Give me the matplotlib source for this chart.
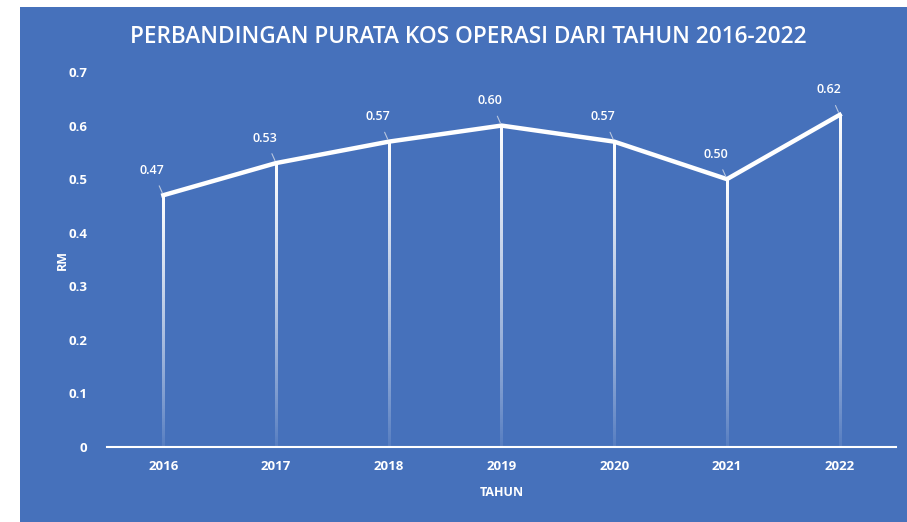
import numpy as np
import matplotlib
matplotlib.use('Agg')
import matplotlib.pyplot as plt
from matplotlib.patches import Rectangle

# Data
years = ['2016', '2017', '2018', '2019', '2020', '2021', '2022']
kos = [0.47, 0.53, 0.57, 0.60, 0.57, 0.50, 0.62]
labels = ['0.47', '0.53', '0.57', '0.60', '0.57', '0.50', '0.62']

blue = '#4671BB'
plt.rcParams['font.family'] = ['Open Sans', 'DejaVu Sans']

fig = plt.figure(figsize=(9.07, 5.22), dpi=100, facecolor='white')
# blue chart area (white margin on the left and top)
fig.patches.append(Rectangle((20 / 907, 0), 1, 1 - 7 / 522, transform=fig.transFigure,
                             facecolor=blue, edgecolor='none', zorder=-10))

ax = fig.add_axes([107 / 907, 75 / 522, 789 / 907, 375 / 522])
ax.set_facecolor('none')
ax.set_zorder(5)

x = np.arange(len(years))

# drop lines fading out toward the axis (vertical gradient images)
grad = np.ones((100, 1, 4))
grad[:, 0, 3] = np.linspace(1.0, 0.05, 100) ** 0.8
half_w = 0.009
for xi, yi in zip(x, kos):
    ax.imshow(grad, extent=(xi - half_w, xi + half_w, 0, yi), aspect='auto',
              interpolation='bilinear', origin='upper', zorder=2)

ax.plot(x, kos, color='white', linewidth=3.2, solid_joinstyle='miter', zorder=3)

for xi, yi, lab in zip(x, kos, labels):
    ax.annotate(lab, xy=(xi, yi), xytext=(-8, 18), textcoords='offset points',
                ha='center', va='center', color='white', fontsize=9,
                fontweight='semibold',
                arrowprops=dict(arrowstyle='-', color='#B8C6DE', lw=0.8,
                                shrinkA=5, shrinkB=2), zorder=4)

ax.set_xlim(-0.5, len(years) - 0.5)
ax.set_ylim(0, 0.7)
ax.set_xticks(x)
ax.set_xticklabels(years)
ax.set_yticks(np.arange(0, 0.71, 0.1))
ax.set_yticklabels(['0', '0.1', '0.2', '0.3', '0.4', '0.5', '0.6', '0.7'])
ax.tick_params(length=0, colors='white', labelsize=9.5)
for t in ax.get_xticklabels() + ax.get_yticklabels():
    t.set_fontweight('bold')
ax.tick_params(axis='x', pad=9)
ax.tick_params(axis='y', pad=14)

for s in ['top', 'right', 'left']:
    ax.spines[s].set_visible(False)
ax.spines['bottom'].set_color('white')
ax.spines['bottom'].set_linewidth(1.5)

ax.set_xlabel('TAHUN', color='white', fontsize=9, fontweight='bold', labelpad=10)
ax.set_ylabel('RM', color='white', fontsize=9, fontweight='bold', labelpad=0)

fig.text(0.516, 1 - 37 / 522, 'PERBANDINGAN PURATA KOS OPERASI DARI TAHUN 2016-2022',
         ha='center', va='center', color='white', fontsize=16.3, fontweight='semibold')

plt.savefig('out.png', dpi=100, facecolor=fig.get_facecolor())
